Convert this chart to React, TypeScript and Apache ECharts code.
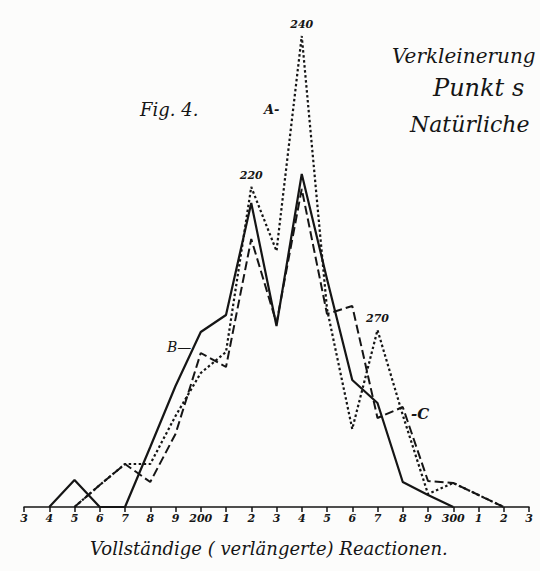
import React, { useEffect, useRef } from "react";
import * as echarts from "echarts";

// Reaction times (sigma), one tick every 10
const xValues = [130, 140, 150, 160, 170, 180, 190, 200, 210, 220, 230, 240, 250, 260, 270, 280, 290, 300, 310, 320, 330];
// Curve A (dotted)
const seriesA = [null, null, 0, 22, 43, 43, 91, 134, 155, 320, 256, 471, 198, 78, 177, 92, 13, 24, 12, 0, null];
// Curve B (solid)
const seriesB = [null, 0, 27, 0, 0, 60, 121, 175, 192, 304, 181, 333, 228, 127, 104, 25, 12, 0, null, null, null];
// Curve C (dashed)
const seriesC = [null, null, 0, 22, 43, 25, 73, 154, 140, 268, 184, 318, 193, 201, 89, 100, 26, 24, 12, 0, null];
// Marked peaks (value labels on curve A)
const peakLabels = [220, 240, 270];

const INK = "#151515";
const SERIF = "DejaVu Serif";

function pairs(vals: (number | null)[]) {
  return xValues.map((x, i) => [x, vals[i]]);
}

export default function App() {
  const ref = useRef<HTMLDivElement>(null);
  useEffect(() => {
    if (!ref.current) return;
    const chart = echarts.init(ref.current, undefined, { renderer: "svg" });
    const peakData = peakLabels.map((p) => {
      const i = xValues.indexOf(p);
      return { coord: [p, seriesA[i]], value: String(p) };
    });
    const txt = (text: string, left: number, top: number, size: number, bold = false) => ({
      type: "text",
      left,
      top,
      style: {
        text,
        fontFamily: SERIF,
        fontStyle: "italic",
        fontWeight: bold ? "bold" : "normal",
        fontSize: size,
        fill: INK,
      },
    });
    chart.setOption({
      animation: false,
      backgroundColor: "#fcfcfb",
      grid: { left: 24, right: 11, top: 7, bottom: 64 },
      xAxis: {
        type: "value",
        min: 130,
        max: 330,
        interval: 10,
        splitLine: { show: false },
        axisLine: { lineStyle: { color: INK, width: 1.5 } },
        axisTick: { length: 5, lineStyle: { color: INK, width: 1.5 } },
        axisLabel: {
          color: INK,
          fontFamily: SERIF,
          fontStyle: "italic",
          fontWeight: "bold",
          fontSize: 11,
          margin: 6,
          formatter: (v: number) => (v === 200 || v === 300 ? String(v) : String(Math.round(v / 10) % 10)),
        },
      },
      yAxis: {
        type: "value",
        min: 0,
        max: 500,
        show: false,
        splitLine: { show: false },
      },
      series: [
        {
          name: "A",
          type: "line",
          data: pairs(seriesA),
          symbol: "none",
          lineStyle: { color: INK, width: 2.2, type: [2.5, 2.5] },
          markPoint: {
            symbol: "rect",
            symbolSize: 1,
            itemStyle: { color: "transparent" },
            label: {
              show: true,
              position: "top",
              distance: 6,
              color: INK,
              fontFamily: SERIF,
              fontStyle: "italic",
              fontWeight: "bold",
              fontSize: 11,
              formatter: (p: any) => p.value,
            },
            data: peakData,
          },
        },
        {
          name: "B",
          type: "line",
          data: pairs(seriesB),
          symbol: "none",
          lineStyle: { color: INK, width: 2.2, type: "solid" },
        },
        {
          name: "C",
          type: "line",
          data: pairs(seriesC),
          symbol: "none",
          lineStyle: { color: INK, width: 2, type: [9, 4] },
        },
      ],
      graphic: [
        txt("Fig. 4.", 140, 100, 18),
        txt("Verkleinerung", 392, 46, 20),
        txt("Punkt s", 433, 76, 24),
        txt("Natürliche", 410, 113, 22),
        txt("A-", 264, 103, 13, true),
        txt("B—", 167, 340, 14),
        txt("-C", 411, 406, 15, true),
        txt("Vollständige ( verlängerte) Reactionen.", 90, 539, 18),
      ],
    });
    return () => chart.dispose();
  }, []);
  return <div ref={ref} style={{ position: "fixed", left: 0, top: 0, width: 540, height: 571 }} />;
}
